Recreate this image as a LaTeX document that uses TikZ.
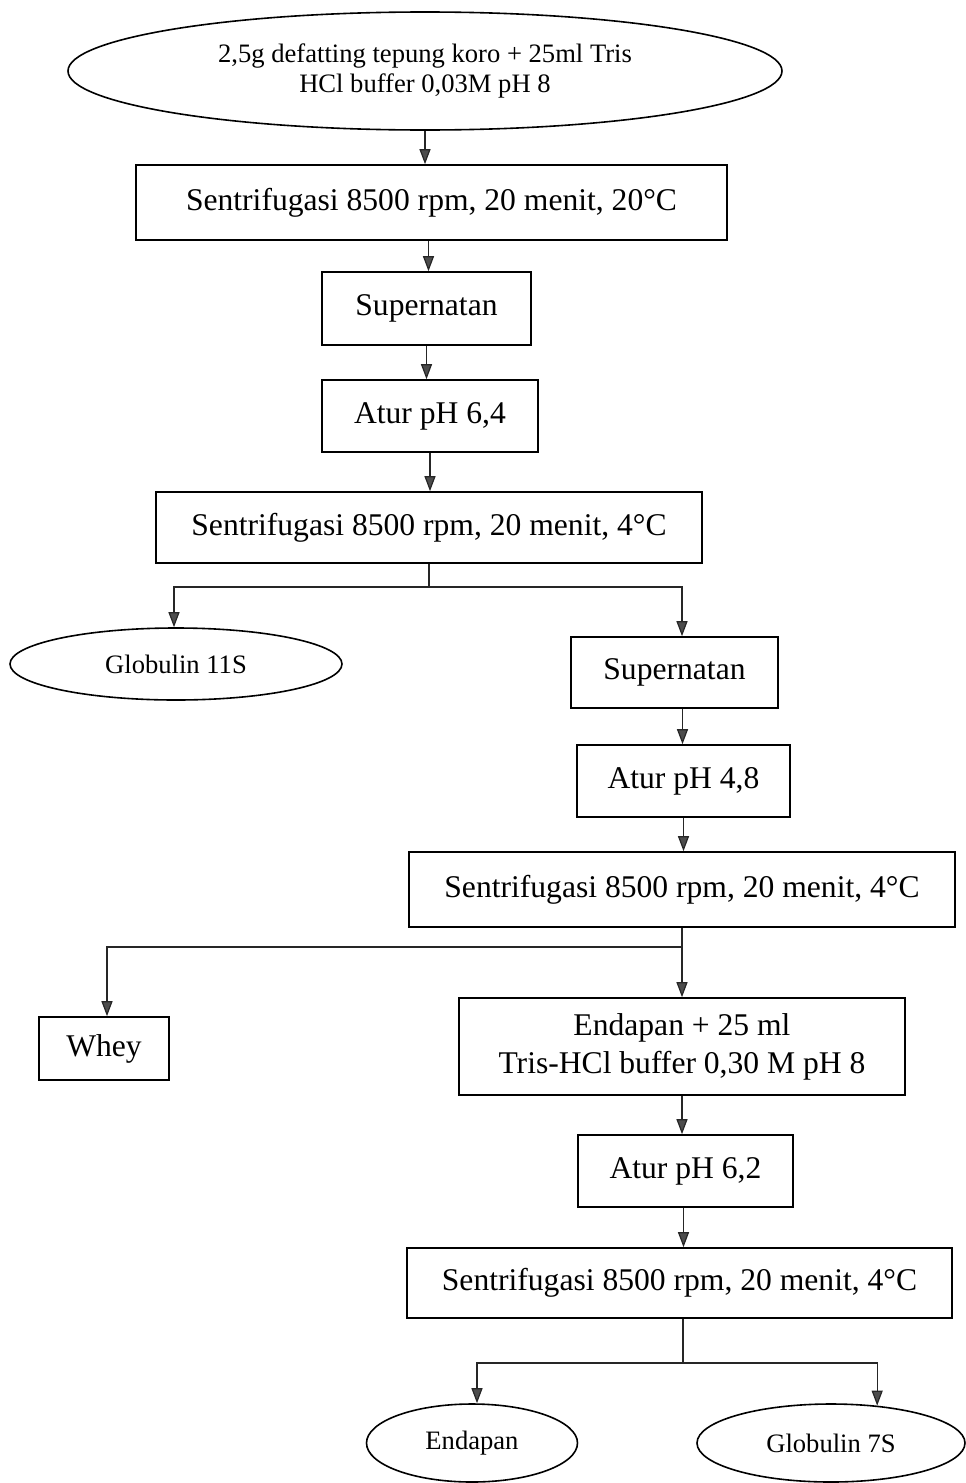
\documentclass[tikz,border=0pt]{standalone}
\usepackage{fontspec}
\setmainfont{Liberation Serif}
\usetikzlibrary{shapes.geometric,arrows.meta}
\begin{document}
\begin{tikzpicture}[x=0.5pt,y=-0.5pt,
  box/.style={draw,line width=0.8pt,inner sep=0pt,align=center,
    font=\fontsize{15.8}{19}\selectfont},
  oval/.style={draw,ellipse,line width=0.8pt,inner sep=0pt,align=center,
    font=\fontsize{13.3}{15}\selectfont},
  arr/.style={-{Triangle[length=7.5pt,width=5.5pt,fill=black!70]},line width=0.6pt,draw=black!85},
  ln/.style={line width=0.6pt,draw=black!85}]
\useasboundingbox (0,0) rectangle (965,1483);

\node[oval,minimum width=357pt,minimum height=59pt] (e1) at (425,71)
  {2,5g defatting tepung koro + 25ml Tris\\HCl buffer 0,03M pH 8};
\node[box,minimum width=295.5pt,minimum height=37.5pt] (b1) at (431.5,202.5)
  {Sentrifugasi 8500 rpm, 20 menit, 20°C};
\node[box,minimum width=104.5pt,minimum height=36.5pt] (b2) at (426.5,308.5) {Supernatan};
\node[box,minimum width=108pt,minimum height=36pt] (b3) at (430,416) {Atur pH 6,4};
\node[box,minimum width=273pt,minimum height=35.5pt] (b4) at (429,527.5)
  {Sentrifugasi 8500 rpm, 20 menit, 4°C};
\node[oval,minimum width=166pt,minimum height=36pt] (e2) at (176,664) {Globulin 11S};
\node[box,minimum width=103.5pt,minimum height=35.5pt] (b5) at (674.5,672.5) {Supernatan};
\node[box,minimum width=106.5pt,minimum height=36pt] (b6) at (683.5,781) {Atur pH 4,8};
\node[box,minimum width=273pt,minimum height=37.5pt] (b7) at (682,889.5)
  {Sentrifugasi 8500 rpm, 20 menit, 4°C};
\node[box,minimum width=65pt,minimum height=31.5pt] (b8) at (104,1048.5) {Whey};
\node[box,minimum width=223pt,minimum height=48.5pt] (b9) at (682,1046.5)
  {Endapan + 25 ml\\Tris-HCl buffer 0,30 M pH 8};
\node[box,minimum width=107.5pt,minimum height=36pt] (b10) at (685.5,1171) {Atur pH 6,2};
\node[box,minimum width=272.5pt,minimum height=35pt] (b11) at (679.5,1283)
  {Sentrifugasi 8500 rpm, 20 menit, 4°C};
\node[oval,minimum width=105.5pt,minimum height=39pt] (e3) at (472,1443) {Endapan};
\node[oval,minimum width=134pt,minimum height=39pt] (e4) at (831,1443) {Globulin 7S};

\draw[arr] (e1.south) -- (e1.south |- b1.north);
\draw[arr] ([xshift=-1.5pt]b1.south) -- ([xshift=-1.5pt]b1.south |- b2.north);
\draw[arr] (b2.south) -- (b2.south |- b3.north);
\draw[arr] (b3.south) -- (b3.south |- b4.north);

\coordinate (j1) at (429,587);
\draw[ln] (b4.south) -- (j1);
\draw[arr] (j1) -| ([xshift=-1pt]e2.north);
\draw[arr] (j1) -| ([xshift=3.75pt]b5.north);
\draw[arr] ([xshift=4pt]b5.south) -- ([xshift=4pt]b5.south |- b6.north);
\draw[arr] (b6.south) -- (b6.south |- b7.north);

\coordinate (j2) at (682,947);
\draw[arr] (b7.south) -- (b9.north);
\draw[arr] (j2) -| ([xshift=1.5pt]b8.north);
\draw[arr] (b9.south) -- (b9.south |- b10.north);
\draw[arr] ([xshift=-1pt]b10.south) -- ([xshift=-1pt]b10.south |- b11.north);

\coordinate (j3) at (683,1363);
\draw[ln] (j3 |- b11.south) -- (j3);
\draw[arr] (j3) -| ([xshift=2.5pt]e3.north);
\draw[arr] (j3) -| (e4.39);
\end{tikzpicture}
\end{document}
